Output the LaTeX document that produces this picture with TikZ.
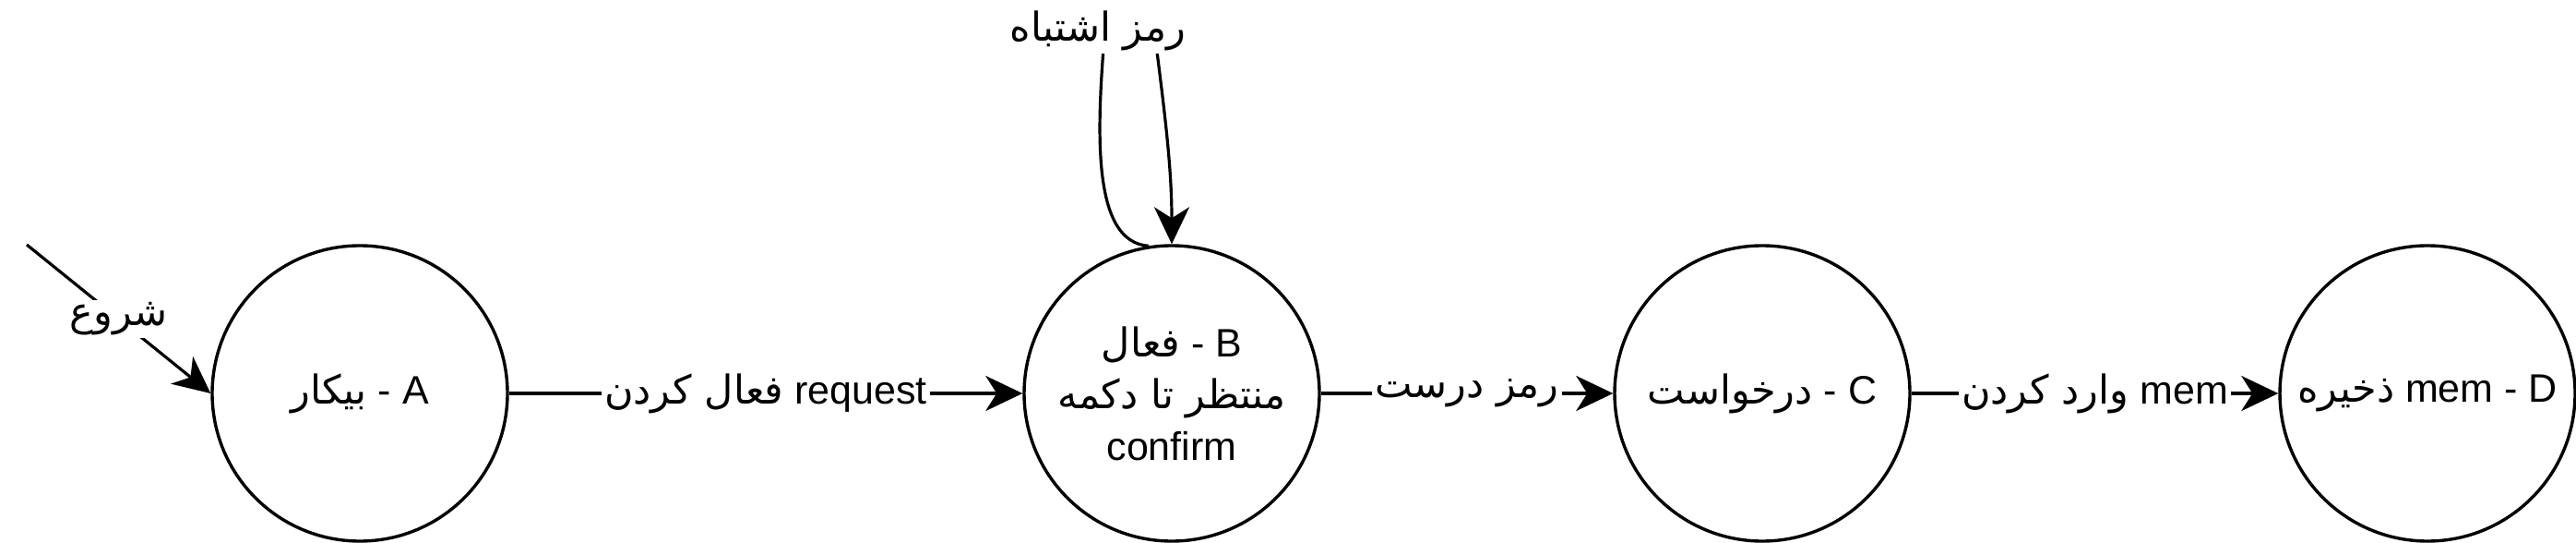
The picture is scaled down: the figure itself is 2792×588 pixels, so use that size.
\documentclass[tikz,border=0pt]{standalone}
\usepackage{fontspec}
\setmainfont{Liberation Sans}
\newfontfamily\ar[Script=Arabic]{DejaVu Sans}
\TeXXeTstate=1
\usetikzlibrary{arrows.meta}
\begin{document}
\tikzset{
  state/.style={circle, draw, line width=1.7pt, minimum size=160pt, inner sep=0pt,
    font=\fontsize{21.5}{28}\selectfont, align=center},
  conn/.style={line width=1.6pt, -{Stealth[length=20pt,width=19pt,inset=6pt]}},
  elabel/.style={fill=white, inner sep=1.5pt, font=\fontsize{21.5}{28}\selectfont},
}
\begin{tikzpicture}[x=0.5pt,y=-0.5pt]
\useasboundingbox (0,0) rectangle (2792,588);
\node[state] (A) at (390,426) {{\ar بیکار} - A};
\node[state] (B) at (1270,426) {{\ar فعال} - B\\{\ar\beginR منتظر تا دکمه\endR}\\confirm};
\node[state] (C) at (1910,426) {{\ar درخواست} - C};
\node[state] (D) at (2631,426) {{\ar ذخیره} mem - D};
\coordinate (s) at (29,265);
\draw[conn] (s) -- node[elabel]{\ar شروع} (A.west);
\draw[conn] (A) -- node[elabel]{{\ar\beginR فعال کردن\endR} request} (B);
\draw[conn] (B) -- node[elabel]{\ar\beginR رمز درست\endR} (C);
\draw[conn] (C) -- node[elabel]{{\ar\beginR وارد کردن\endR} mem} (D);
\draw[conn] (B.99) .. controls (1185,262) and (1188,150) .. (1197,40) .. controls (1205,10) and (1245,10) .. (1252,40) .. controls (1262,120) and (1270,180) .. (B.north);
\node[elabel] (L) at (1190,33) {\ar\beginR رمز اشتباه\endR};
\end{tikzpicture}
\end{document}
